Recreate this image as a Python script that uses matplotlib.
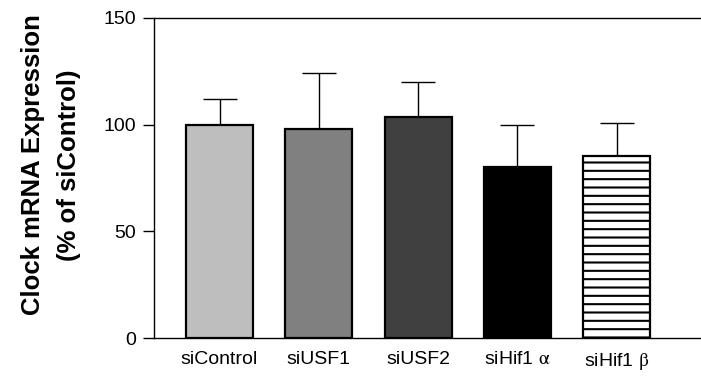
import matplotlib.pyplot as plt
import numpy as np

plt.rcParams['font.family'] = ['Liberation Sans', 'DejaVu Sans']
plt.rcParams['mathtext.fontset'] = 'stix'
plt.rcParams['hatch.linewidth'] = 1.5

groups = ['siControl', 'siUSF1', 'siUSF2', r'siHif1 $\mathrm{\alpha}$', r'siHif1 $\mathrm{\beta}$']
means = [100, 98, 103.7, 80, 85.5]
errs = [12, 26, 16.5, 20, 15.5]
colors = ['#bebebe', '#808080', '#404040', '#000000', '#ffffff']
hatches = ['', '', '', '', '--']

fig = plt.figure(figsize=(7.01, 3.78), dpi=100)
ax = fig.add_axes([0.2197, 0.1058, 0.7803, 0.8466])

x = np.arange(len(groups))
ax.errorbar(x, means, yerr=[np.zeros(len(errs)), errs], fmt='none',
            ecolor='black', elinewidth=1, capsize=12, capthick=1, zorder=1)
for xi, m, c, h in zip(x, means, colors, hatches):
    ax.bar(xi, m, width=0.675, color=c, edgecolor='black', linewidth=1.6,
           hatch=h, zorder=2)

ax.set_xlim(-0.66, 4.85)
ax.set_ylim(0, 150)
ax.set_yticks([0, 50, 100, 150])
ax.set_xticks(x)
ax.set_xticklabels(groups, fontsize=14)
ax.tick_params(axis='y', labelsize=14, length=8, width=1, direction='out', pad=5)
ax.tick_params(axis='x', length=0, pad=9)
ax.spines['right'].set_visible(False)
for s in ['left', 'top', 'bottom']:
    ax.spines[s].set_linewidth(1)

ax.set_ylabel('Clock mRNA Expression\n(% of siControl)', fontsize=18.5,
              fontweight='bold', linespacing=1.6)
ax.yaxis.set_label_coords(-0.134, 0.541)

fig.savefig('out.png', dpi=100)
